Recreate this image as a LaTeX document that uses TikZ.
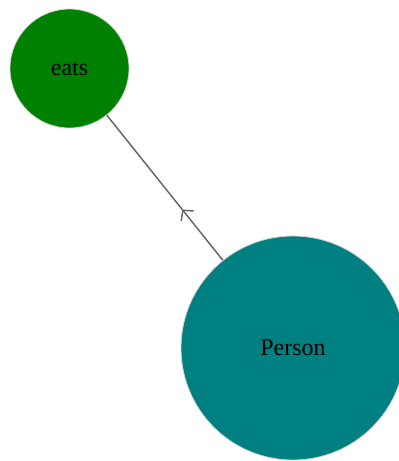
\documentclass[tikz,border=0pt]{standalone}
\usepackage{fontspec}
\setmainfont{Liberation Serif}
\usetikzlibrary{arrows.meta,decorations.markings}

\definecolor{eatsgreen}{HTML}{008000}
\definecolor{personteal}{HTML}{008080}
\definecolor{linkgray}{HTML}{666666}

\tikzset{
  entity/.style={circle, draw=gray!35, line width=0.6pt, inner sep=0pt,
                 font=\fontsize{18}{20}\selectfont, text=black},
  link/.style={draw=linkgray, line width=1.1pt,
               postaction={decorate},
               decoration={markings, mark=at position 0.35 with
                 {\arrow[linkgray, line width=1.1pt]{Straight Barb[length=5.5pt,width=12pt]}}}}
}

\begin{document}
\begin{tikzpicture}[x=0.75pt, y=-0.75pt]
    \useasboundingbox (0, 0) rectangle (399, 461);
    \clip (0, 0) rectangle (399, 461);

    \node [entity, fill=eatsgreen, minimum size=89.25pt] (eats) at (69.5, 68.5) {eats};
    \node [entity, fill=personteal, minimum size=168pt] (person) at (293, 348) {Person};

    \path [link] (person) -- (eats);
  \end{tikzpicture}
\end{document}
